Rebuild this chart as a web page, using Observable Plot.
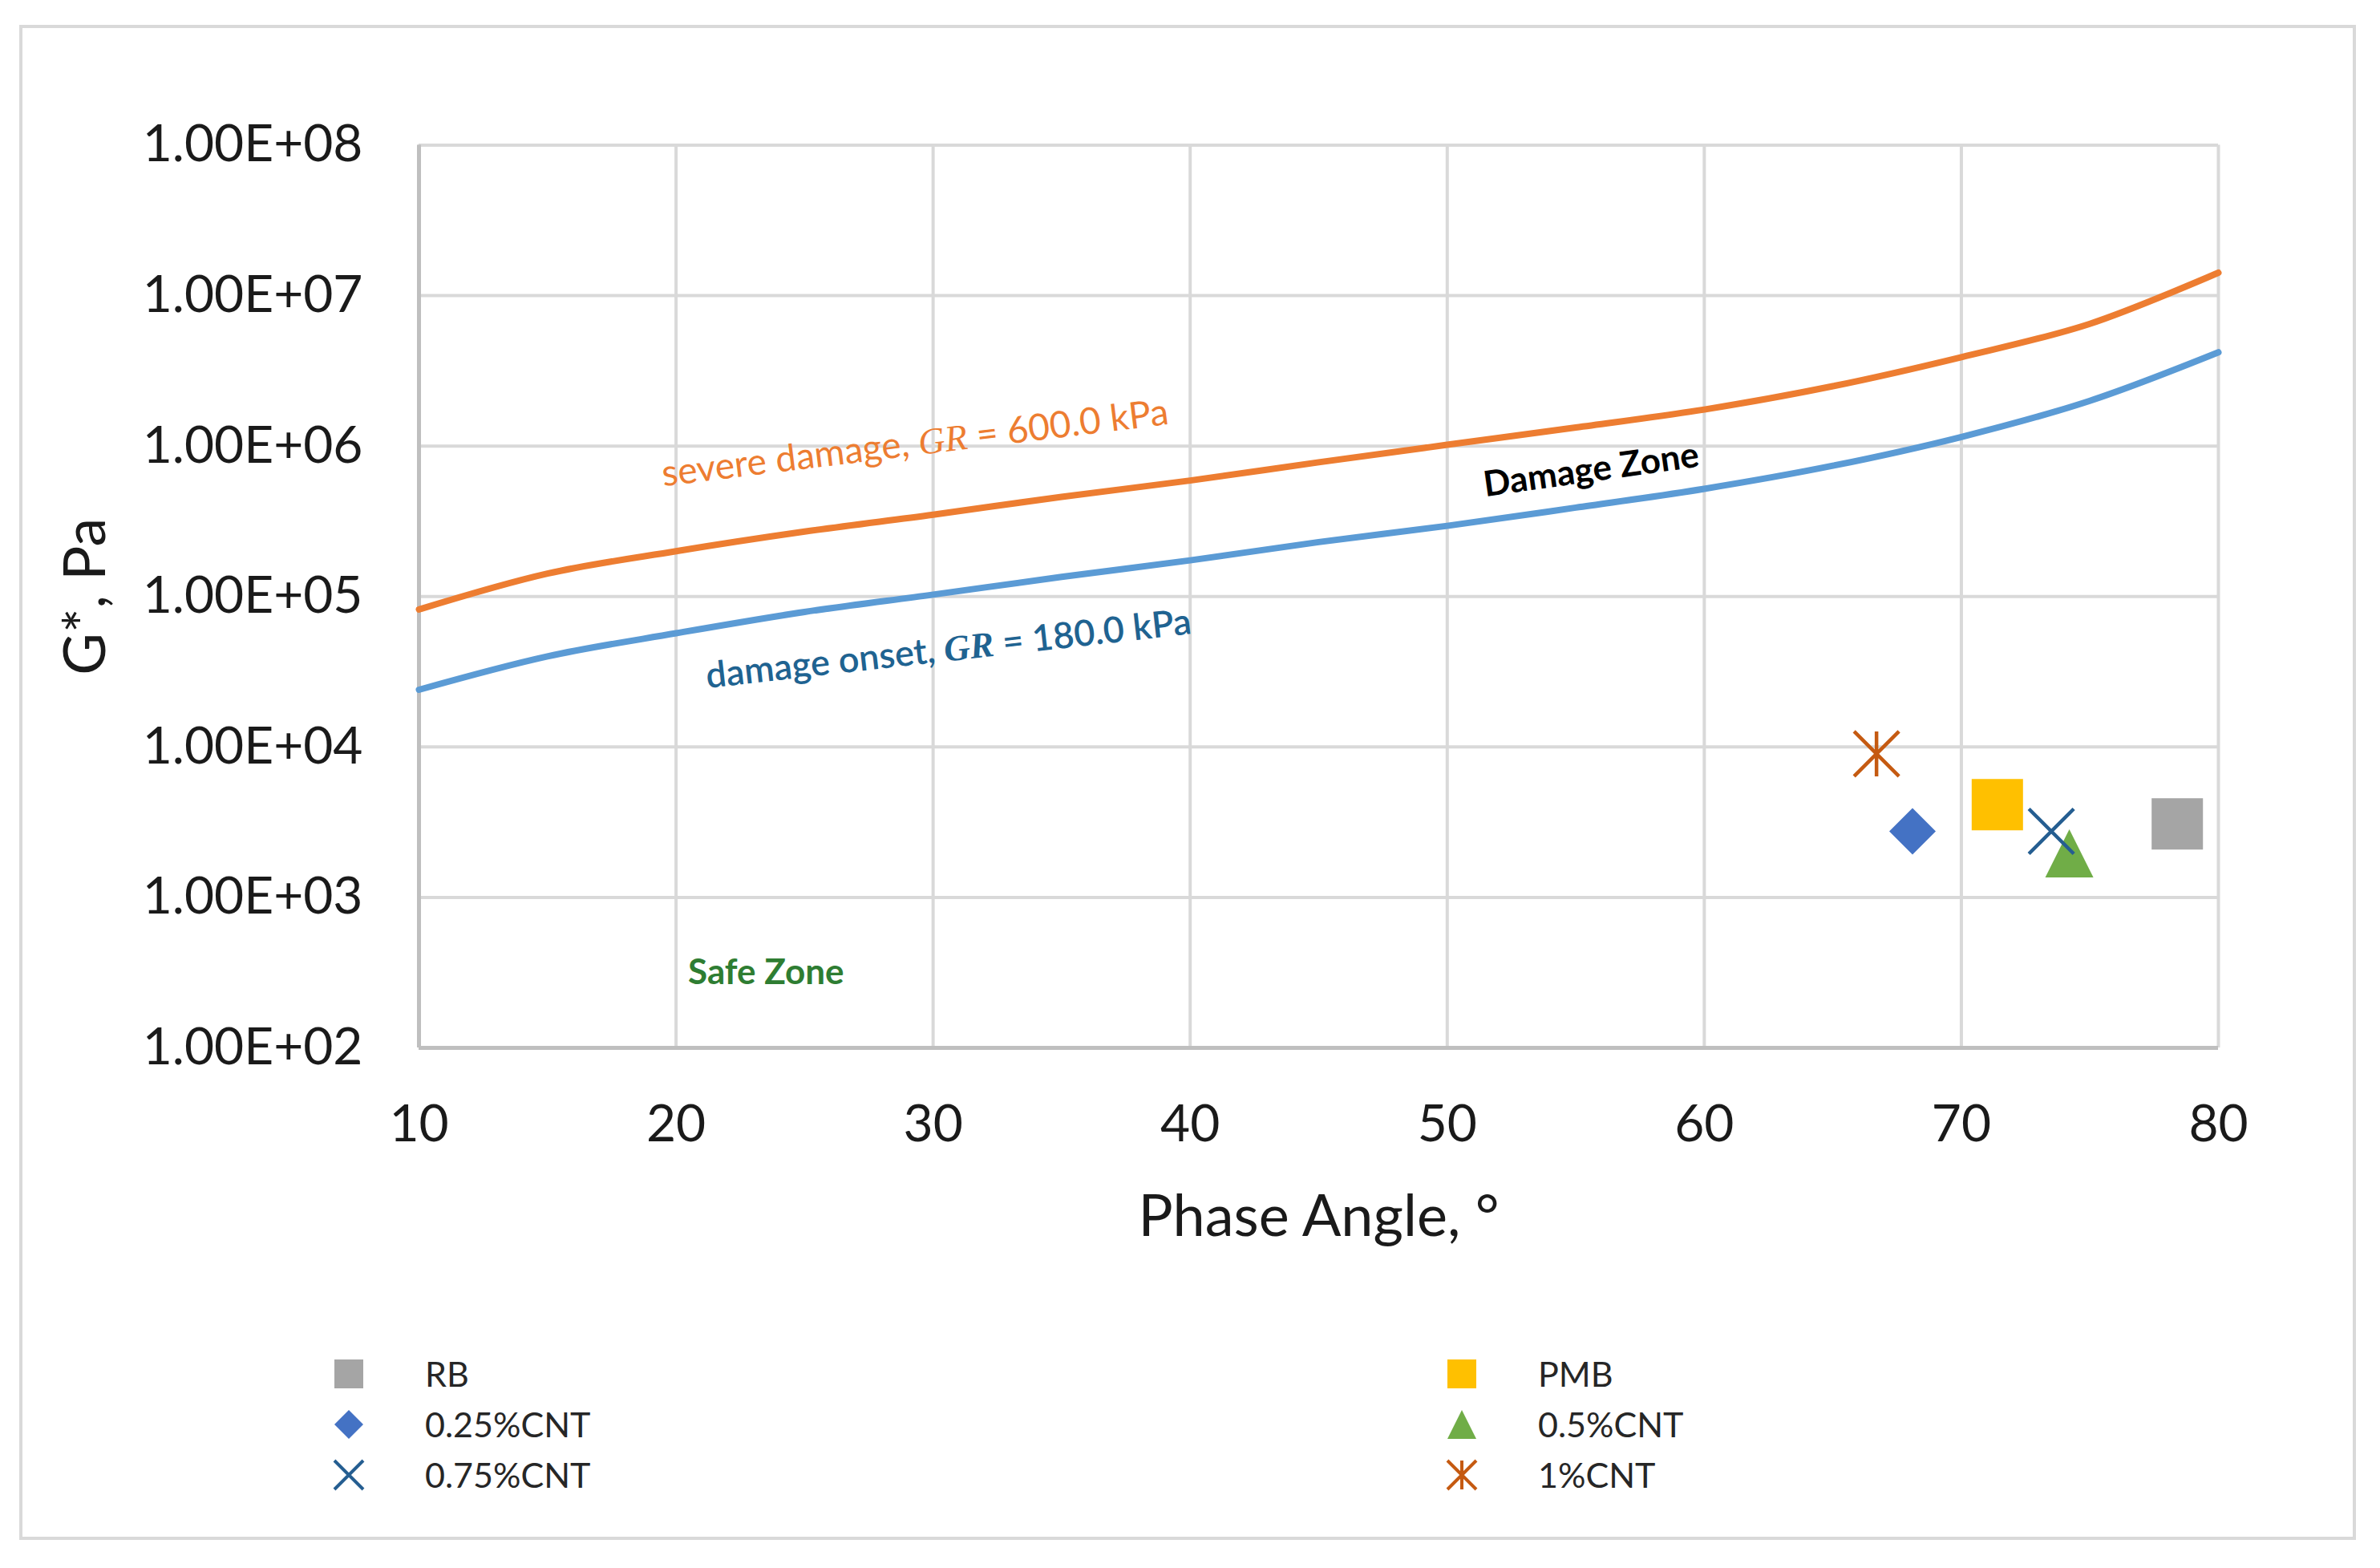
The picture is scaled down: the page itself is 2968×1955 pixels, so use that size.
<!DOCTYPE html>
<html>
<head>
<meta charset="utf-8">
<script src="https://cdn.jsdelivr.net/npm/d3@7"></script>
<script src="https://cdn.jsdelivr.net/npm/@observablehq/plot@0.6"></script>
<style>
  html, body { margin: 0; padding: 0; background: #fff; }
  #wrap { position: relative; width: 2968px; height: 1955px; font-family: Lato, "Open Sans", sans-serif; }
  #border { position: absolute; left: 24px; top: 31px; width: 2914px; height: 1889px; border: 4px solid #d9d9d9; box-sizing: border-box; }
  #chart { position: absolute; left: 0; top: 0; }
  .leg { position: absolute; display: flex; align-items: center; font-size: 43px; color: #262626; height: 50px; }
  .leg svg { position: absolute; left: -25px; top: 0; overflow: visible; }
  .leg span { position: absolute; left: 95px; white-space: nowrap; line-height: 50px; }
</style>
</head>
<body>
<div id="wrap"><div id="border"></div><div id="chart"></div></div>
<script>
// ---- data ----
const xTicks = [10, 20, 30, 40, 50, 60, 70, 80];
const yTicks = [1e2, 1e3, 1e4, 1e5, 1e6, 1e7, 1e8];
const yTickLabels = ["1.00E+02", "1.00E+03", "1.00E+04", "1.00E+05", "1.00E+06", "1.00E+07", "1.00E+08"];

const lineAngles = [10, 15, 20, 25, 30, 35, 40, 45, 50, 55, 60, 65, 70, 75, 80];
const severeG = [8.2e4, 1.42e5, 2.0e5, 2.7e5, 3.5e5, 4.6e5, 5.9e5, 7.8e5, 1.02e6, 1.33e6, 1.75e6, 2.5e6, 3.9e6, 6.5e6, 1.42e7];
const onsetG = [2.4e4, 4.0e4, 5.7e4, 7.9e4, 1.03e5, 1.35e5, 1.74e5, 2.3e5, 2.95e5, 3.9e5, 5.2e5, 7.4e5, 1.15e6, 2.0e6, 4.2e6];

const sampleNames = ["RB", "PMB", "0.25%CNT", "0.5%CNT", "0.75%CNT", "1%CNT"];
const samplePhase = [78.4, 71.4, 68.1, 74.2, 73.5, 66.7];
const sampleG = [3080, 4140, 2750, 1960, 2750, 9000];
const sampleColors = ["#a5a5a5", "#ffc000", "#4472c4", "#70ad47", "#255e91", "#c55a11"];
const sampleShapes = ["square", "square", "diamond", "triangle", "x", "star"];

const annotTexts = ["severe damage, GR = 600.0 kPa", "damage onset, GR = 180.0 kPa", "Damage Zone", "Safe Zone"];
const annotX = [29.3, 30.6, 55.6, 23.5];
const annotY = [1.04e6, 4.45e4, 6.9e5, 316];
const annotColors = ["#ed7d31", "#1f6391", "#000000", "#2e7d32"];
const annotRotate = [-7, -6.4, -8, 0];
const annotWeight = ["normal", "600", "bold", "bold"];
const annotSize = [46, 45, 44, 44];

// ---- custom symbols (size -> half-width r) ----
const mk = (fn) => ({ draw(ctx, size) { const r = Math.sqrt(size / Math.PI); fn(ctx, r); } });
const symbols = {
  square: mk((c, r) => { c.moveTo(-r, -r); c.lineTo(r, -r); c.lineTo(r, r); c.lineTo(-r, r); c.closePath(); }),
  diamond: mk((c, r) => { c.moveTo(0, -r); c.lineTo(r, 0); c.lineTo(0, r); c.lineTo(-r, 0); c.closePath(); }),
  triangle: mk((c, r) => { c.moveTo(0, -r); c.lineTo(r, r); c.lineTo(-r, r); c.closePath(); }),
  x: mk((c, r) => { c.moveTo(-r, -r); c.lineTo(r, r); c.moveTo(-r, r); c.lineTo(r, -r); }),
  star: mk((c, r) => { c.moveTo(-r, -r); c.lineTo(r, r); c.moveTo(-r, r); c.lineTo(r, -r); c.moveTo(0, -r); c.lineTo(0, r); })
};
const stroked = (s) => s === "x" || s === "star";
const markerR = { square: 32, diamond: 29, triangle: 30, x: 28, star: 28 };

const severe = lineAngles.map((x, i) => ({ x, y: severeG[i] }));
const onset = lineAngles.map((x, i) => ({ x, y: onsetG[i] }));
const samples = sampleNames.map((n, i) => ({ name: n, x: samplePhase[i], y: sampleG[i], color: sampleColors[i], shape: sampleShapes[i] }));
const annots = annotTexts.map((t, i) => ({ t, x: annotX[i], y: annotY[i], color: annotColors[i], rot: annotRotate[i], w: annotWeight[i], fs: annotSize[i] }));

const dotMarks = samples.map(s => Plot.dot([s], {
  x: "x", y: "y", symbol: symbols[s.shape], r: markerR[s.shape],
  fill: stroked(s.shape) ? "none" : s.color,
  stroke: stroked(s.shape) ? s.color : "none",
  strokeWidth: stroked(s.shape) ? 4.5 : 0
}));

const annotMarks = annots.map(a => Plot.text([a], {
  x: "x", y: "y", text: "t", fill: a.color, rotate: a.rot,
  fontSize: a.fs, fontWeight: a.w
}));

const chart = Plot.plot({
  width: 2968, height: 1955,
  marginLeft: 522, marginRight: 202, marginTop: 180.5, marginBottom: 649,
  style: { fontFamily: "Lato, 'Open Sans', sans-serif", fontSize: "64px", color: "#1a1a1a", background: "transparent" },
  x: { domain: [10, 80] },
  y: { type: "log", domain: [1e2, 1e8] },
  marks: [
    Plot.gridX(xTicks, { stroke: "#d9d9d9", strokeOpacity: 1, strokeWidth: 4 }),
    Plot.gridY(yTicks, { stroke: "#d9d9d9", strokeOpacity: 1, strokeWidth: 4 }),
    Plot.ruleX([10], { stroke: "#bfbfbf", strokeWidth: 5 }),
    Plot.ruleY([1e2], { stroke: "#bfbfbf", strokeWidth: 5 }),
    Plot.axisX(xTicks, { tickSize: 0, tickPadding: 71, fontSize: 64, label: "Phase Angle, °", labelAnchor: "center", labelArrow: "none", labelOffset: 234 }),
    Plot.axisY(yTicks, { tickSize: 0, tickPadding: 70, fontSize: 64, tickFormat: (d) => yTickLabels[yTicks.indexOf(d)], label: "G*, Pa", labelAnchor: "center", labelArrow: "none", labelOffset: 443 }),
    Plot.line(severe, { x: "x", y: "y", stroke: "#ed7d31", strokeWidth: 8, curve: "catmull-rom" }),
    Plot.line(onset, { x: "x", y: "y", stroke: "#5b9bd5", strokeWidth: 8, curve: "catmull-rom" }),
    ...annotMarks,
    ...dotMarks
  ]
});

// italic GR
chart.querySelectorAll("text").forEach(t => {
  const s = t.textContent;
  if (s.includes("GR =") && t.children.length === 0) {
    const [a, b] = s.split("GR");
    t.textContent = "";
    const ns = "http://www.w3.org/2000/svg";
    const t1 = document.createElementNS(ns, "tspan"); t1.textContent = a;
    const t2 = document.createElementNS(ns, "tspan"); t2.textContent = "GR";
    t2.setAttribute("font-style", "italic"); t2.setAttribute("font-family", "'Liberation Serif', serif");
    const t3 = document.createElementNS(ns, "tspan"); t3.textContent = b;
    t.append(t1, t2, t3);
  }
});
// axis title fonts
chart.querySelectorAll("g[aria-label='x-axis label'] text, g[aria-label='y-axis label'] text").forEach(t => t.setAttribute("font-size", "72"));

document.getElementById("chart").appendChild(chart);

// ---- legend (HTML) ----
const legendOrder = [0, 1, 2, 3, 4, 5];
const legCols = [435, 1823];
const legRows = [1713, 1776, 1839];
const wrap = document.getElementById("wrap");
legendOrder.forEach((idx, k) => {
  const s = samples[idx];
  const col = k % 2, row = Math.floor(k / 2);
  const div = document.createElement("div");
  div.className = "leg";
  div.style.left = legCols[col] + "px";
  div.style.top = (legRows[row] - 25) + "px";
  const svg = d3.create("svg").attr("width", 50).attr("height", 50);
  const p = d3.path();
  const rr = 18;
  symbols[s.shape].draw(p, rr * rr * Math.PI);
  svg.append("path").attr("transform", "translate(25,25)").attr("d", p.toString())
    .attr("fill", stroked(s.shape) ? "none" : s.color)
    .attr("stroke", stroked(s.shape) ? s.color : "none")
    .attr("stroke-width", 4);
  div.appendChild(svg.node());
  const sp = document.createElement("span");
  sp.textContent = s.name;
  div.appendChild(sp);
  wrap.appendChild(div);
});
</script>
</body>
</html>
